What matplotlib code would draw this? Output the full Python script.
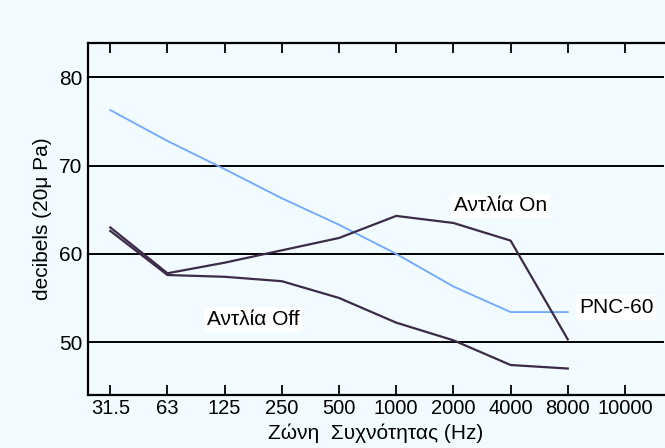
import matplotlib.pyplot as plt

plt.rcParams['font.family'] = ['Liberation Sans', 'DejaVu Sans']

freqs = ["31.5", "63", "125", "250", "500", "1000", "2000", "4000", "8000", "10000"]

# values (dB)
pnc60 = [76.3, 72.8, 69.6, 66.3, 63.3, 60.0, 56.3, 53.4, 53.4]
pump_on = [63.0, 57.8, 59.0, 60.4, 61.8, 64.3, 63.5, 61.5, 50.3]
pump_off = [62.6, 57.6, 57.4, 56.9, 55.0, 52.2, 50.2, 47.4, 47.0]

bg = "#f2fbff"
fig = plt.figure(figsize=(6.65, 4.48), dpi=100, facecolor=bg)
ax = fig.add_axes([0.1323, 0.1183, 0.866, 0.7857], facecolor=bg)

x = list(range(len(freqs)))
ax.plot(x[:9], pnc60, color="#6fa8ff", lw=1.3)
ax.plot(x[:9], pump_on, color="#3c2b48", lw=1.6)
ax.plot(x[:9], pump_off, color="#3c2b48", lw=1.6)

for yv in [50, 60, 70, 80]:
    ax.axhline(yv, color="black", lw=1.4, zorder=0)

ax.set_xlim(-0.39, 9.68)
ax.set_ylim(44.0, 83.9)
ax.set_xticks(x)
ax.set_xticklabels(freqs, fontsize=14.5)
ax.set_yticks([50, 60, 70, 80])
ax.tick_params(axis="x", direction="in", length=7.2, width=1.3, top=True, pad=3)
ax.tick_params(axis="y", length=0, labelsize=15, pad=4)
for s in ["left", "top", "bottom"]:
    ax.spines[s].set_linewidth(1.6)
ax.spines["right"].set_visible(False)

ax.set_ylabel("decibels (20μ Pa)", fontsize=15, labelpad=5)
ax.set_xlabel("Ζώνη  Συχνότητας (Hz)", fontsize=15, labelpad=4)

box = dict(facecolor="white", edgecolor="none", pad=2)
ax.text(6.82, 65.45, "Αντλία On", fontsize=15, ha="center", va="center", bbox=box)
ax.text(2.5, 52.6, "Αντλία Off", fontsize=15, ha="center", va="center", bbox=box)
ax.text(8.85, 53.9, "PNC-60", fontsize=15, ha="center", va="center", bbox=box)

fig.savefig("out.png", dpi=100, facecolor=bg)
